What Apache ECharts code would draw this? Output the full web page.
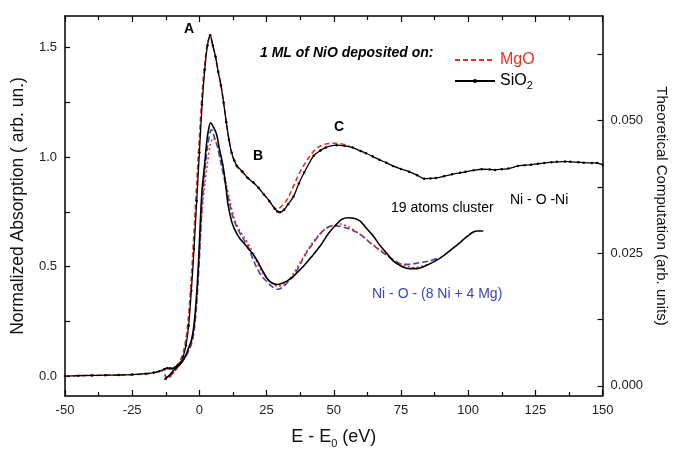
<!DOCTYPE html>
<html>
<head>
<meta charset="utf-8">
<script src="https://cdn.jsdelivr.net/npm/echarts@6/dist/echarts.min.js"></script>
<style>
  html, body { margin: 0; padding: 0; background: #fff; }
  #chart { width: 677px; height: 454px; }
</style>
</head>
<body>
<div id="chart"></div>
<script>
// experimental spectra, [E - E0, normalized absorption]
const sio2Exp = [
  [-50, 0.000], [-45, 0.002], [-40, 0.003], [-35, 0.004], [-30, 0.005], [-25, 0.007],
  [-20, 0.011], [-17, 0.016], [-15, 0.022], [-13, 0.032], [-12, 0.036], [-11, 0.036],
  [-10, 0.035], [-9, 0.040], [-8, 0.050], [-7, 0.062], [-6, 0.090], [-5, 0.14],
  [-4, 0.23], [-3, 0.39], [-2, 0.58], [-1, 0.80], [0, 1.02], [1, 1.24], [2, 1.40],
  [3, 1.51], [4, 1.557], [5, 1.51], [6, 1.46], [7, 1.39], [8, 1.33], [9, 1.25],
  [10, 1.16], [11, 1.08], [12, 1.02], [13, 0.985], [14, 0.96], [16, 0.935], [18, 0.905],
  [20, 0.885], [22, 0.86], [24, 0.83], [26, 0.80], [28, 0.765], [29, 0.752], [30, 0.748],
  [31.5, 0.76], [33, 0.785], [35, 0.82], [37, 0.88], [39, 0.93], [42.5, 1.006], [45, 1.03],
  [47, 1.044], [51, 1.055], [54, 1.052], [57, 1.044], [60, 1.028], [62, 1.018], [64.5, 1.003],
  [67, 0.988], [69.5, 0.975], [72, 0.96], [75, 0.946], [78, 0.934], [81, 0.918],
  [83.6, 0.902], [86, 0.903], [88, 0.905], [91, 0.913], [94, 0.922], [97, 0.929],
  [99, 0.933], [102, 0.940], [105, 0.945], [108, 0.944], [110, 0.942], [112.5, 0.945],
  [115, 0.948], [118.5, 0.96], [121, 0.963], [123.4, 0.966], [126, 0.970], [128.3, 0.973],
  [131, 0.977], [133, 0.979], [136, 0.980], [138, 0.979], [141, 0.977], [143, 0.975],
  [146, 0.974], [148, 0.973], [150, 0.966]
];
const mgoExp = [
  [-50, 0.000], [-40, 0.003], [-30, 0.005], [-20, 0.010], [-15, 0.020], [-13, 0.028],
  [-11, 0.032], [-10, 0.034], [-9, 0.040], [-8, 0.055], [-7, 0.075], [-6, 0.11],
  [-5, 0.17], [-4, 0.28], [-3, 0.45], [-2, 0.66], [-1, 0.88], [0, 1.09], [1, 1.29],
  [2, 1.43], [3, 1.52], [4, 1.55], [5, 1.51], [6, 1.455], [7, 1.39], [8, 1.33],
  [9, 1.25], [10, 1.16], [11, 1.08], [12, 1.02], [13, 0.98], [14, 0.955], [16, 0.93],
  [18, 0.905], [20, 0.885], [22, 0.86], [24, 0.83], [26, 0.80], [28, 0.768], [29, 0.762],
  [30, 0.77], [32, 0.795], [34, 0.84], [36, 0.895], [38, 0.945], [40, 0.985], [42, 1.02],
  [44, 1.045], [47, 1.06], [50, 1.064], [53, 1.06], [56, 1.05]
];

// theoretical spectra (right axis)
const theoryNiONi = [
  [-13, 0.0012], [-12, 0.0016], [-11, 0.0021], [-10, 0.0027], [-9, 0.0032], [-8, 0.0037],
  [-7, 0.0042], [-6, 0.0049], [-5, 0.0058], [-4, 0.0072], [-3, 0.0085], [-2, 0.0115],
  [-1, 0.0175], [-0.4, 0.0226], [0, 0.027], [0.6, 0.0336], [1, 0.037], [1.5, 0.0395],
  [2, 0.042], [2.7, 0.0458], [3.3, 0.048], [4.15, 0.0496], [5, 0.049], [6.4, 0.0474],
  [7.5, 0.0445], [8.8, 0.0414], [10, 0.037], [10.7, 0.034], [12, 0.031], [13.1, 0.0295],
  [15, 0.0278], [16.8, 0.0268], [18, 0.026], [20, 0.0248], [21.7, 0.0234], [23.5, 0.0217],
  [25.4, 0.0201], [27, 0.0194], [29, 0.0191], [31, 0.0194], [32.7, 0.0198], [35, 0.0207],
  [38.8, 0.0226], [42, 0.0245], [45, 0.0264], [48, 0.0287], [51.1, 0.0305], [53, 0.0314],
  [55.4, 0.0317], [57.5, 0.0316], [59.7, 0.0311], [62, 0.0298], [64.6, 0.0283], [67, 0.0266],
  [69.5, 0.0251], [72, 0.0236], [75, 0.0226], [78, 0.0221], [81, 0.0221], [84, 0.0226],
  [88, 0.0236], [91.5, 0.0248], [95, 0.0262], [97.6, 0.0273], [100, 0.0283], [101.9, 0.029],
  [103.5, 0.0292], [105.6, 0.0292]
];
const theoryNiMg = [
  [-12.8, 0.0022], [-12.2, 0.0012], [-11.5, 0.0014], [-10.5, 0.002], [-9, 0.003], [-8, 0.0036],
  [-7, 0.0042], [-6, 0.0048], [-5, 0.0056], [-4, 0.0066], [-3, 0.0078], [-2, 0.0102],
  [-1, 0.0155], [0, 0.024], [1, 0.034], [2, 0.0405], [3, 0.045], [4, 0.0478], [4.5, 0.0483],
  [5.5, 0.047], [6.5, 0.0455], [8, 0.042], [9.5, 0.0385], [11, 0.035], [12.5, 0.0318],
  [14.3, 0.0295], [16, 0.028], [18, 0.0263], [21.1, 0.0225], [23, 0.0208], [25, 0.0197],
  [26.6, 0.0189], [29, 0.0182], [31, 0.0186], [33, 0.0196], [35.2, 0.0208], [38, 0.0234],
  [40, 0.0252], [42.5, 0.027], [45, 0.0287], [47.4, 0.0298], [50, 0.0302], [52, 0.0301],
  [55, 0.0297], [59.7, 0.0286], [63, 0.0272], [67, 0.0256], [70, 0.0245], [73, 0.0235],
  [75.6, 0.0229], [78, 0.0229], [81.7, 0.0232], [85, 0.0235], [88.5, 0.024]
];
const theoryMgLike = [
  [-12.5, 0.0018], [-11.5, 0.0016], [-10, 0.0022], [-8, 0.0035], [-6, 0.0049], [-4, 0.0068],
  [-3, 0.0082], [-2, 0.0108], [-1, 0.0165], [0, 0.025], [1, 0.033], [2, 0.038], [3, 0.042],
  [4, 0.0453], [5.1, 0.0467], [6, 0.0462], [7, 0.0448], [8.5, 0.0418], [10, 0.038],
  [11.5, 0.0345], [13, 0.0315], [15, 0.0293], [17, 0.0277], [19, 0.026], [21, 0.0237],
  [23, 0.0217], [25, 0.0203], [27, 0.0194], [29, 0.0188], [31, 0.019], [33, 0.0198],
  [35, 0.0212], [38, 0.0237], [41, 0.0262], [44, 0.0282], [47, 0.0296], [50, 0.0303],
  [52.3, 0.0305], [55, 0.0301], [58, 0.0292], [61, 0.0281], [64, 0.0268], [67, 0.0257],
  [70, 0.0246], [73, 0.0235], [76.8, 0.0226], [80, 0.0223], [83, 0.0226], [85, 0.0229]
];

const leftLabels = [0, 0.5, 1.0, 1.5];
const leftTicks = [0, 0.25, 0.5, 0.75, 1.0, 1.25, 1.5];
const rightLabels = [0, 0.025, 0.05];
const rightTicks = [0, 0.0125, 0.025, 0.0375, 0.05, 0.0625];

const RED = '#e8321e';
const BLUE = '#3c46b0';
const FONT = 'Liberation Sans';

const chart = echarts.init(document.getElementById('chart'), null, { renderer: 'canvas' });

const axisLine = { show: true, onZero: false, lineStyle: { color: '#000', width: 1.5 } };
const tickLabel = { color: '#222', fontSize: 13, fontFamily: FONT };

const option = {
  backgroundColor: '#fff',
  animation: false,
  grid: { left: 65, right: 68, top: 16, bottom: 57 },
  legend: {
    data: [
      { name: 'MgO', textStyle: { color: RED }, itemStyle: { opacity: 0 } },
      { name: 'SiO2', textStyle: { color: '#000' } }
    ],
    orient: 'vertical',
    left: 449,
    top: 47,
    itemWidth: 40,
    itemHeight: 5,
    itemGap: 5,
    textStyle: {
      fontFamily: FONT,
      fontSize: 16,
      rich: {
        a: { fontSize: 16, fontFamily: FONT, color: '#000' },
        s: { fontSize: 11, fontFamily: FONT, color: '#000', padding: [10, 0, 0, 0] }
      }
    },
    formatter: name => name === 'SiO2' ? '{a|SiO}{s|2}' : name
  },
  xAxis: [
    {
      type: 'value', min: -50, max: 150, interval: 25,
      axisLine, splitLine: { show: false },
      axisTick: { inside: true, length: 6, lineStyle: { color: '#000', width: 1.2 } },
      minorTick: { show: true, splitNumber: 2, length: 4, lineStyle: { color: '#000', width: 1.2 } },
      axisLabel: { ...tickLabel, margin: 8 },
      name: '{a|E - E}{s|0}{a| (eV)}',
      nameLocation: 'middle',
      nameGap: 30,
      nameTextStyle: {
        rich: {
          a: { fontSize: 18, fontFamily: FONT, color: '#111' },
          s: { fontSize: 11, fontFamily: FONT, color: '#111', padding: [12, 0, 0, 0] }
        }
      }
    },
    {
      type: 'value', min: -50, max: 150, interval: 25, position: 'top',
      axisLine, splitLine: { show: false },
      axisTick: { inside: true, length: 6, lineStyle: { color: '#000', width: 1.2 } },
      minorTick: { show: true, splitNumber: 2, length: 4, lineStyle: { color: '#000', width: 1.2 } },
      axisLabel: { show: false }
    }
  ],
  yAxis: [
    {
      type: 'value', min: -0.091, max: 1.645, position: 'left',
      axisLine, splitLine: { show: false },
      axisTick: { inside: true, length: 5, customValues: leftTicks, lineStyle: { color: '#000', width: 1.2 } },
      axisLabel: {
        ...tickLabel, margin: 8, customValues: leftLabels,
        formatter: v => v.toFixed(1)
      },
      name: 'Normalized Absorption ( arb. un.)',
      nameLocation: 'middle',
      nameGap: 38,
      nameTextStyle: { fontSize: 17.5, fontFamily: FONT, color: '#111' }
    },
    {
      type: 'value', min: -0.0019, max: 0.0697, position: 'right',
      axisLine, splitLine: { show: false },
      axisTick: { inside: true, length: 5, customValues: rightTicks, lineStyle: { color: '#000', width: 1.2 } },
      axisLabel: {
        ...tickLabel, margin: 8, customValues: rightLabels,
        formatter: v => v.toFixed(3)
      },
      name: 'Theoretical Computation (arb. units)',
      nameLocation: 'middle',
      nameRotate: -90,
      nameGap: 40,
      nameTextStyle: { fontSize: 15, fontFamily: FONT, color: '#111' }
    }
  ],
  series: [
    {
      name: 'Ni - O - (8 Ni + 4 Mg)', type: 'line', yAxisIndex: 1,
      data: theoryNiMg, symbol: 'none', smooth: 0.3,
      lineStyle: { color: BLUE, width: 1.6, type: [6, 3] }
    },
    {
      name: 'Ni - O - Mg', type: 'line', yAxisIndex: 1,
      data: theoryMgLike, symbol: 'none', smooth: 0.3,
      lineStyle: { color: RED, width: 1.6, type: [2, 2.5] }
    },
    {
      name: 'Ni - O - Ni', type: 'line', yAxisIndex: 1,
      data: theoryNiONi, symbol: 'none', smooth: 0.3,
      lineStyle: { color: '#000', width: 1.6 }
    },
    {
      name: 'MgO', type: 'line', yAxisIndex: 0,
      data: mgoExp, symbol: 'none', smooth: 0.3,
      itemStyle: { color: RED },
      lineStyle: { color: RED, width: 1.6, type: [5, 3] }
    },
    {
      name: 'SiO2', type: 'line', yAxisIndex: 0,
      data: sio2Exp, smooth: 0.3,
      symbol: 'circle', symbolSize: 2.5, showSymbol: true,
      itemStyle: { color: '#000' },
      lineStyle: { color: '#000', width: 1.3 }
    }
  ],
  graphic: [
    { type: 'text', left: 184, top: 22, style: { text: 'A', font: `bold 14px "${FONT}"`, fill: '#000' } },
    { type: 'text', left: 253, top: 149, style: { text: 'B', font: `bold 14px "${FONT}"`, fill: '#000' } },
    { type: 'text', left: 334, top: 120, style: { text: 'C', font: `bold 14px "${FONT}"`, fill: '#000' } },
    { type: 'text', left: 260, top: 46, style: { text: '1 ML of NiO deposited on:', font: `italic bold 14px "${FONT}"`, fill: '#000' } },
    { type: 'text', left: 391, top: 201, style: { text: '19 atoms cluster', font: `14px "${FONT}"`, fill: '#000' } },
    { type: 'text', left: 510, top: 193, style: { text: 'Ni - O -Ni', font: `14px "${FONT}"`, fill: '#000' } },
    { type: 'text', left: 372, top: 287, style: { text: 'Ni - O - (8 Ni + 4 Mg)', font: `14px "${FONT}"`, fill: BLUE } }
  ]
};

chart.setOption(option);
</script>
</body>
</html>
